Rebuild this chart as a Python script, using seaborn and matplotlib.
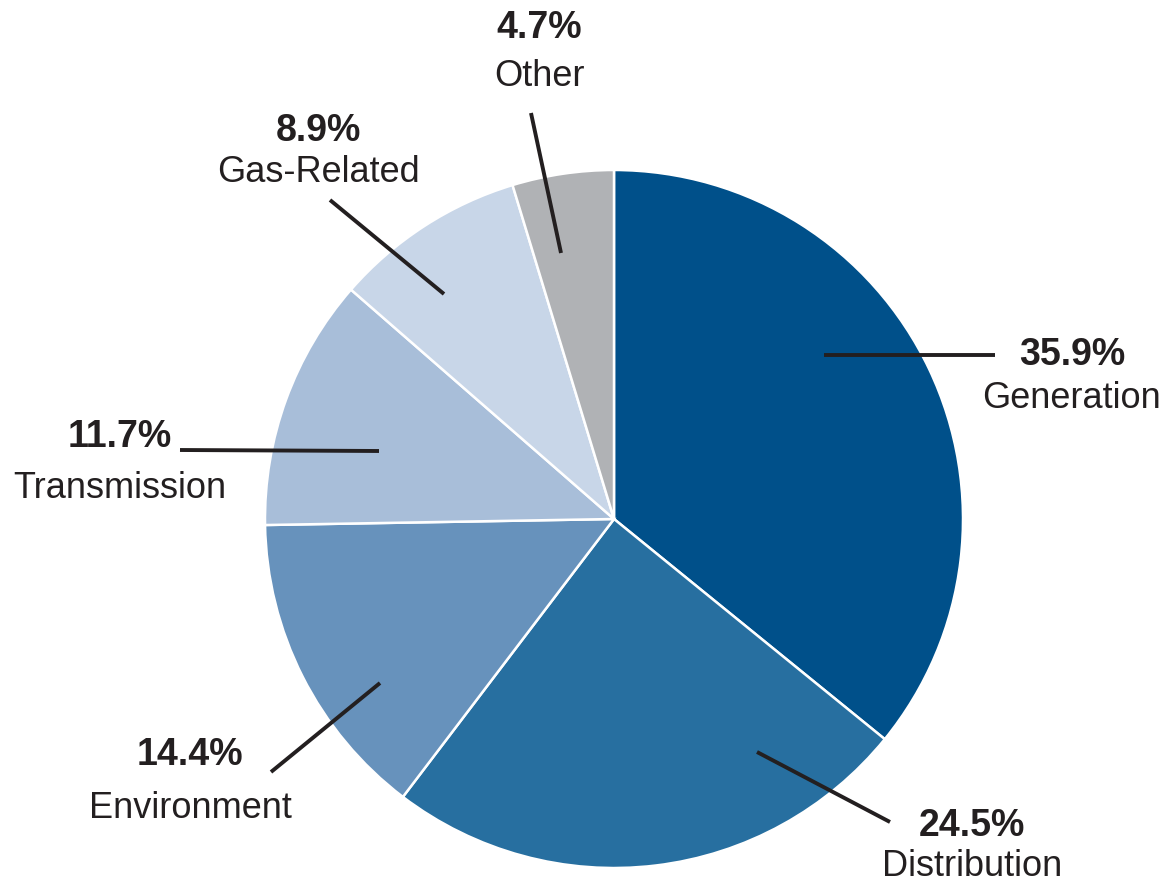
import matplotlib
matplotlib.use('Agg')
import numpy as np
import seaborn as sns
import matplotlib.pyplot as plt

sns.set_style(style='white')
plt.rcParams['font.family'] = ['Liberation Sans Narrow', 'Liberation Sans', 'DejaVu Sans']

# data
categories = ['Generation', 'Distribution', 'Environment', 'Transmission', 'Gas-Related', 'Other']
shares = [35.9, 24.5, 14.4, 11.7, 8.9, 4.7]
pct_labels = ['35.9%', '24.5%', '14.4%', '11.7%', '8.9%', '4.7%']
colors = ['#00508A', '#276FA0', '#6792BC', '#A8BED9', '#C8D6E8', '#B0B2B5']

# layout (pixel space, y measured from top)
W, H = 1169, 883
center = (614, 519)
radius = 349
# leader line: (inner x, inner y, outer x, outer y); text centre: (x, y of pct, y of name)
leaders = {
    'Generation':   ((824, 355), (995, 355), (1072, 355, 398)),
    'Distribution': ((757, 752), (890, 822), (972, 826, 866)),
    'Environment':  ((380, 683), (271, 772), (190, 755, 808)),
    'Transmission': ((379, 451), (180, 450), (120, 437, 488)),
    'Gas-Related':  ((444, 294), (330, 200), (318, 131, 173)),
    'Other':        ((561, 253), (531, 113), (539, 28, 76)),
}

TXT = '#231F20'
fig = plt.figure(figsize=(W / 100, H / 100), dpi=100)
ax = fig.add_axes([0, 0, 1, 1])

ax.pie(shares, colors=colors, startangle=90, counterclock=False,
       center=(center[0], H - center[1]), radius=radius,
       wedgeprops={'edgecolor': 'white', 'linewidth': 1.8})

ax.set_xlim(0, W)
ax.set_ylim(0, H)
ax.set_aspect('equal')
ax.axis('off')

def fy(y):
    return H - y

for name, pct in zip(categories, pct_labels):
    (x0, y0), (x1, y1), (tx, ty1, ty2) = leaders[name]
    ax.plot([x0, x1], [fy(y0), fy(y1)], color=TXT, lw=2.8, solid_capstyle='butt')
    ax.text(tx, fy(ty1), pct, ha='center', va='center', fontsize=27,
            fontweight='bold', color=TXT)
    ax.text(tx, fy(ty2), name, ha='center', va='center', fontsize=26,
            color=TXT)

fig.savefig('out.png', dpi=100)
